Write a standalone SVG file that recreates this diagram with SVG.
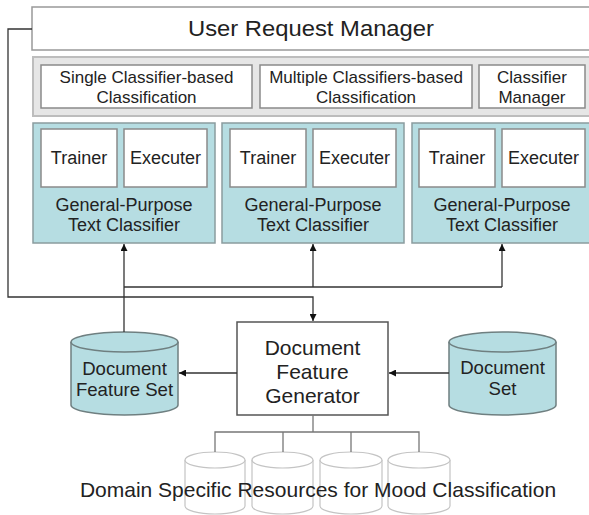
<svg xmlns="http://www.w3.org/2000/svg" width="589" height="515" viewBox="0 0 589 515">
<defs>
<style>
text{font-family:"Liberation Sans",Arial,sans-serif;fill:#222;text-anchor:middle;dominant-baseline:central}
.box{fill:#fff;stroke:#8a8a8a;stroke-width:1.5}
.cont{fill:#e6e6e6;stroke:#bdbdbd;stroke-width:2}
.teal{fill:#b6dde2;stroke:#8a9c9e;stroke-width:1.5}
.cyl{fill:#b6dde2;stroke:#6f7f80;stroke-width:1.5}
.res{fill:#fff;stroke:#c4c4c4;stroke-width:1.2}
.ln{fill:none;stroke:#333;stroke-width:1.3}
.br{fill:none;stroke:#777;stroke-width:1.3}
.t18{font-size:18px}
.t17{font-size:17px}
.t19{font-size:18.6px}
.t21{font-size:21px}
</style>
<marker id="ah" viewBox="0 0 10 10" refX="10" refY="5" markerWidth="7" markerHeight="7" markerUnits="userSpaceOnUse" orient="auto">
<path d="M0,0 L10,5 L0,10 z" fill="#111"/>
</marker>
</defs>
<rect width="589" height="515" fill="#fff"/>

<g id="urm">
<rect class="box" x="32" y="7" width="565" height="43" style="stroke:#999"/>
<text x="311" y="29" font-size="21.5" textLength="246" lengthAdjust="spacingAndGlyphs">User Request Manager</text>
</g>

<g id="classification">
<rect class="cont" x="33" y="57" width="565" height="59"/>
<g id="single">
<rect class="box" x="41" y="65" width="211" height="43"/>
<text class="t17" x="146.5" y="77">Single Classifier-based</text>
<text class="t17" x="146.5" y="97">Classification</text>
</g>
<g id="multiple">
<rect class="box" x="260" y="65" width="212" height="43"/>
<text class="t17" x="366" y="77">Multiple Classifiers-based</text>
<text class="t17" x="366" y="97">Classification</text>
</g>
<g id="clsmgr">
<rect class="box" x="479" y="65" width="106" height="43"/>
<text class="t17" x="532" y="77">Classifier</text>
<text class="t17" x="532" y="97">Manager</text>
</g>
</g>

<g id="gptc1">
<rect class="teal" x="33" y="123" width="182" height="120"/>
<rect class="box" x="41" y="129" width="76" height="58"/>
<text class="t18" x="79" y="158">Trainer</text>
<rect class="box" x="124" y="129" width="83" height="58"/>
<text class="t18" x="165.5" y="158">Executer</text>
<text class="t18" x="124" y="205">General-Purpose</text>
<text class="t18" x="124" y="225">Text Classifier</text>
</g>
<g id="gptc2">
<rect class="teal" x="222" y="123" width="182" height="120"/>
<rect class="box" x="230" y="129" width="76" height="58"/>
<text class="t18" x="268" y="158">Trainer</text>
<rect class="box" x="313" y="129" width="83" height="58"/>
<text class="t18" x="354.5" y="158">Executer</text>
<text class="t18" x="313" y="205">General-Purpose</text>
<text class="t18" x="313" y="225">Text Classifier</text>
</g>
<g id="gptc3">
<rect class="teal" x="412" y="123" width="182" height="120"/>
<rect class="box" x="419" y="129" width="76" height="58"/>
<text class="t18" x="457" y="158">Trainer</text>
<rect class="box" x="502" y="129" width="83" height="58"/>
<text class="t18" x="543.5" y="158">Executer</text>
<text class="t18" x="502" y="205">General-Purpose</text>
<text class="t18" x="502" y="225">Text Classifier</text>
</g>

<g id="dfs">
<path class="cyl" d="M71,342 L71,405 A53.5,10 0 0 0 178,405 L178,342"/>
<ellipse class="cyl" cx="124.5" cy="342" rx="53.5" ry="10"/>
<text class="t19" x="124.5" y="368">Document</text>
<text class="t19" x="124.5" y="389">Feature Set</text>
</g>

<g id="dfg">
<rect class="box" x="237" y="322" width="151" height="93" style="stroke:#555"/>
<text class="t21" x="312.5" y="347">Document</text>
<text class="t21" x="312.5" y="371">Feature</text>
<text class="t21" x="312.5" y="395">Generator</text>
</g>

<g id="ds">
<path class="cyl" d="M449,342 L449,405 A53.5,10 0 0 0 556,405 L556,342"/>
<ellipse class="cyl" cx="502.5" cy="342" rx="53.5" ry="10"/>
<text class="t19" x="502.5" y="367">Document</text>
<text class="t19" x="502.5" y="388">Set</text>
</g>

<g id="resources">
<g id="res1">
<path class="res" d="M185,460 L185,506 A30,8 0 0 0 245,506 L245,460"/>
<ellipse class="res" cx="215" cy="460" rx="30" ry="8"/>
</g>
<g id="res2">
<path class="res" d="M252,460 L252,506 A30.5,8 0 0 0 313,506 L313,460"/>
<ellipse class="res" cx="282.5" cy="460" rx="30.5" ry="8"/>
</g>
<g id="res3">
<path class="res" d="M320,460 L320,506 A31,8 0 0 0 382,506 L382,460"/>
<ellipse class="res" cx="351" cy="460" rx="31" ry="8"/>
</g>
<g id="res4">
<path class="res" d="M388,460 L388,506 A31,8 0 0 0 450,506 L450,460"/>
<ellipse class="res" cx="419" cy="460" rx="31" ry="8"/>
</g>
<text class="t21" x="318" y="489">Domain Specific Resources for Mood Classification</text>
</g>

<g id="connectors">
<path class="ln" d="M32,29 H8 V297 H313 V321" marker-end="url(#ah)"/>
<path class="ln" d="M124,332 V244" marker-end="url(#ah)"/>
<path class="ln" d="M124,287 H502"/>
<path class="ln" d="M313,287 V244" marker-end="url(#ah)"/>
<path class="ln" d="M502,287 V244" marker-end="url(#ah)"/>
<path class="ln" d="M237,373 H179" marker-end="url(#ah)"/>
<path class="ln" d="M449,373 H389" marker-end="url(#ah)"/>
<path class="br" d="M313,415 V432 M215,452 V432 H419 V452 M283,432 V452 M351,432 V452"/>
</g>
</svg>
